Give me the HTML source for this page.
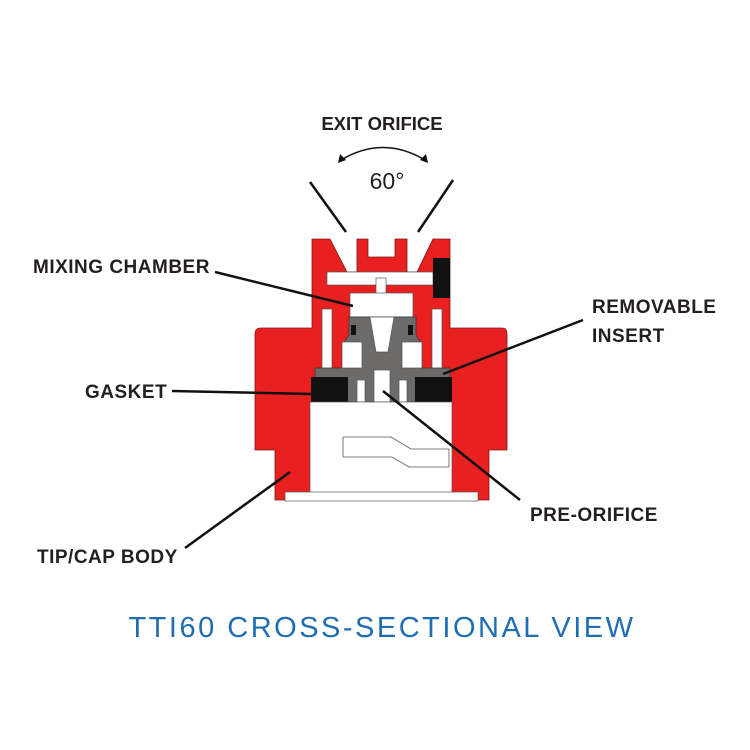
<!DOCTYPE html>
<html><head><meta charset="utf-8"><style>
html,body{margin:0;padding:0;background:#fff;}
svg{display:block}
.l{font-family:"Liberation Sans",sans-serif;font-weight:bold;font-size:19px;letter-spacing:0.5px;fill:#231f20}
</style></head><body>
<svg width="750" height="750" viewBox="0 0 750 750" xmlns="http://www.w3.org/2000/svg">
<path d="M312,239 L330,239 L347,272 L357,272 L357,239 L368,239 L368,257 L395,257 L395,239 L407,239 L407,272 L417,272 L433,239 L450,239 L450,328 L502,328 Q507,328 507,334 L507,450 L489,450 L489,500 L275,500 L275,450 L255,450 L255,334 Q255,328 261,328 L312,328 Z" fill="#e8201f" stroke="#7a1a1a" stroke-width="0.8"/>
<rect x="327" y="272" width="106" height="13" fill="#fff" stroke="#555" stroke-width="0.7"/>
<rect x="433" y="258" width="17" height="40" fill="#111"/>
<rect x="376" y="278" width="10" height="22" fill="#fff" stroke="#555" stroke-width="0.7"/>
<rect x="350" y="293" width="63" height="24" fill="#fff" stroke="#555" stroke-width="0.7"/>
<rect x="322" y="309" width="10" height="62" fill="#fff" stroke="#555" stroke-width="0.7"/>
<rect x="432" y="309" width="10" height="62" fill="#fff" stroke="#555" stroke-width="0.7"/>
<path d="M349,317 L416,317 L416,335 L422,345 L422,368 L450,368 L450,402 L315,402 L315,368 L342,368 L342,345 L349,335 Z" fill="#6d6a6a" stroke="#333" stroke-width="0.7"/>
<rect x="342" y="342" width="20" height="26" fill="#fff" stroke="#555" stroke-width="0.7"/>
<rect x="402" y="342" width="20" height="26" fill="#fff" stroke="#555" stroke-width="0.7"/>
<path d="M370,317 L394,317 L388,352 L376,352 Z" fill="#fff" stroke="#555" stroke-width="0.7"/>
<rect x="374" y="370" width="16" height="32" fill="#fff" stroke="#555" stroke-width="0.7"/>
<rect x="357" y="380" width="8" height="22" fill="#fff" stroke="#555" stroke-width="0.7"/>
<rect x="399" y="380" width="8" height="22" fill="#fff" stroke="#555" stroke-width="0.7"/>
<rect x="351" y="325" width="5" height="10" fill="#111"/>
<rect x="408" y="325" width="5" height="10" fill="#111"/>
<rect x="311" y="377" width="37" height="25" fill="#111"/>
<rect x="415" y="377" width="37" height="25" fill="#111"/>
<rect x="310" y="402" width="142" height="91" fill="#fff" stroke="#555" stroke-width="0.7"/>
<rect x="285" y="492" width="193" height="9" fill="#fff" stroke="#555" stroke-width="0.7"/>
<path d="M343,437 L391,437 L411,449 L449,449 L449,467 L409,467 L392,457 L343,457 Z" fill="#fff" stroke="#555" stroke-width="0.8"/>
<g stroke="#111" stroke-width="2.5" fill="none">
<line x1="215" y1="272" x2="353" y2="306"/>
<line x1="583" y1="320" x2="443" y2="374"/>
<line x1="172" y1="391" x2="311" y2="394"/>
<line x1="520" y1="500" x2="383" y2="391"/>
<line x1="185" y1="548" x2="290" y2="472"/>
<line x1="310" y1="182" x2="346" y2="232"/>
<line x1="453" y1="180" x2="418" y2="232"/>
<path d="M341,160 Q383,135 425,160" stroke-width="1.5"/>
</g>
<path d="M338,163 L340,154 L346,160 Z" fill="#111"/>
<path d="M428,163 L426,154 L420,160 Z" fill="#111"/>
<text x="382" y="130" text-anchor="middle" font-family="Liberation Sans,sans-serif" font-weight="bold" font-size="18.5" fill="#231f20">EXIT ORIFICE</text>
<text x="387" y="189" text-anchor="middle" font-family="Liberation Sans,sans-serif" font-size="23" fill="#231f20">60°</text>
<text class="l" x="33" y="273">MIXING CHAMBER</text>
<text class="l" x="592" y="313">REMOVABLE</text>
<text class="l" x="592" y="342">INSERT</text>
<text class="l" x="85" y="398">GASKET</text>
<text class="l" x="530" y="521">PRE-ORIFICE</text>
<text class="l" x="37" y="563">TIP/CAP BODY</text>
<text x="382" y="637" text-anchor="middle" font-family="Liberation Sans,sans-serif" font-size="29" letter-spacing="2.5" fill="#1f6db3">TTI60 CROSS-SECTIONAL VIEW</text>
</svg>
</body></html>
